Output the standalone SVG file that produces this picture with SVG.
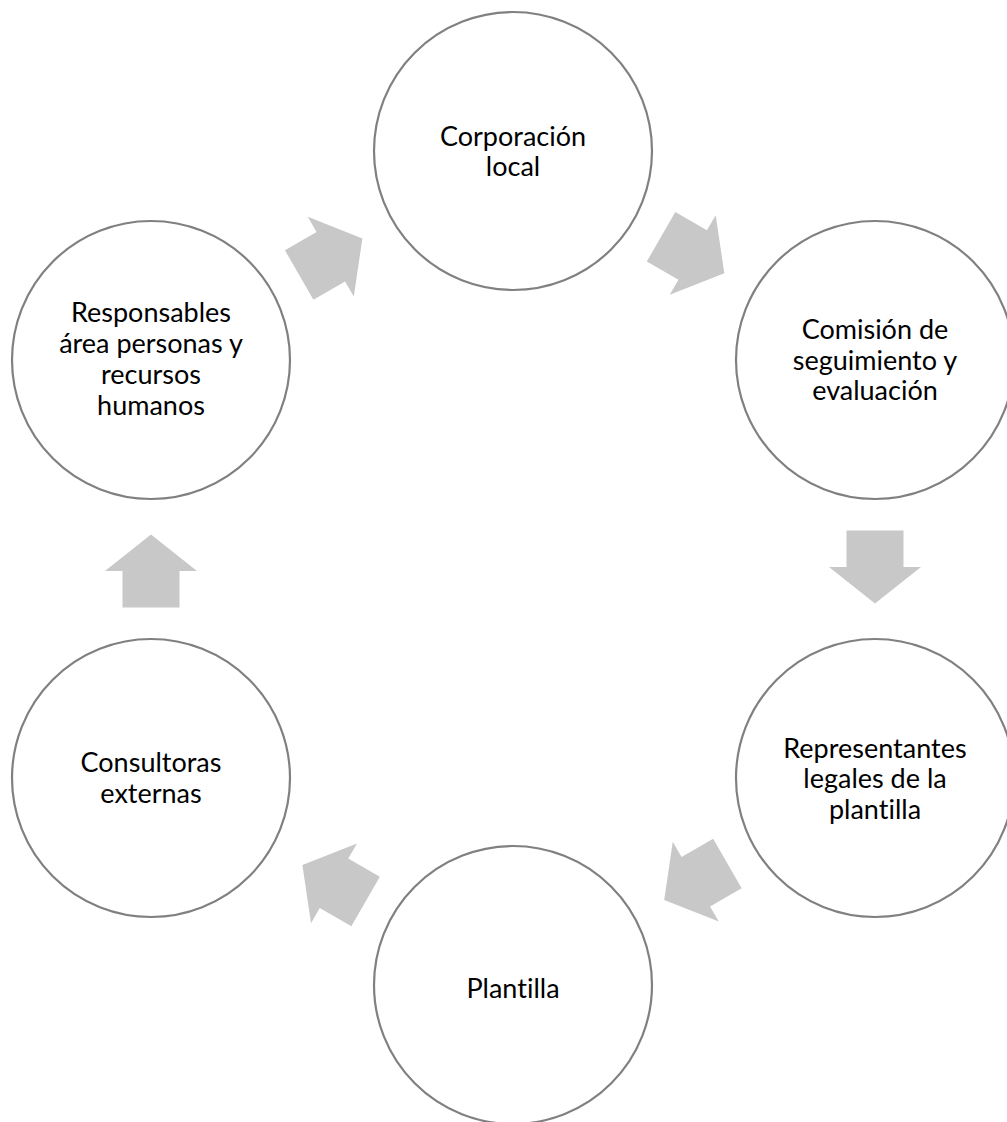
<svg xmlns="http://www.w3.org/2000/svg" width="1007" height="1122" viewBox="0 0 1007 1122">
<style>
.node circle{fill:#ffffff;stroke:#808080;stroke-width:2.2}
.node text{font-family:Lato,"Open Sans","Liberation Sans",sans-serif;font-size:27px;fill:#000;text-anchor:middle;font-variant-ligatures:none;font-feature-settings:"liga" 0}
.arr{fill:#c8c8c8}
</style>
<defs>
<polygon id="arrow" class="arr" points="-36.5,-28.5 0,-28.5 0,-46 36.5,0 0,46 0,28.5 -36.5,28.5"/>
</defs>
<rect width="1007" height="1122" fill="#ffffff"/>
<g id="connectors">
<use href="#arrow" transform="translate(330.8,256.7) rotate(-30)"/>
<use href="#arrow" transform="translate(692.7,255) rotate(30)"/>
<use href="#arrow" transform="translate(875,567) rotate(90)"/>
<use href="#arrow" transform="translate(695.8,881.7) rotate(150)"/>
<use href="#arrow" transform="translate(334,883.3) rotate(210)"/>
<use href="#arrow" transform="translate(151,571) rotate(-90)"/>
</g>
<g id="node-corporacion" class="node">
<circle cx="513" cy="151" r="139"/>
<text x="513" y="146">Corporación</text>
<text x="513" y="176">local</text>
</g>
<g id="node-comision" class="node">
<circle cx="875" cy="360" r="139"/>
<text x="875" y="339">Comisión de</text>
<text x="875" y="370">seguimiento y</text>
<text x="875" y="400">evaluación</text>
</g>
<g id="node-representantes" class="node">
<circle cx="875" cy="778" r="139"/>
<text x="875" y="758">Representantes</text>
<text x="875" y="788">legales de la</text>
<text x="875" y="819">plantilla</text>
</g>
<g id="node-plantilla" class="node">
<circle cx="513" cy="985" r="139"/>
<text x="513" y="998">Plantilla</text>
</g>
<g id="node-consultoras" class="node">
<circle cx="151" cy="778" r="139"/>
<text x="151" y="772">Consultoras</text>
<text x="151" y="803">externas</text>
</g>
<g id="node-responsables" class="node">
<circle cx="151" cy="360" r="139"/>
<text x="151" y="322">Responsables</text>
<text x="151" y="353">área personas y</text>
<text x="151" y="384">recursos</text>
<text x="151" y="415">humanos</text>
</g>
</svg>
